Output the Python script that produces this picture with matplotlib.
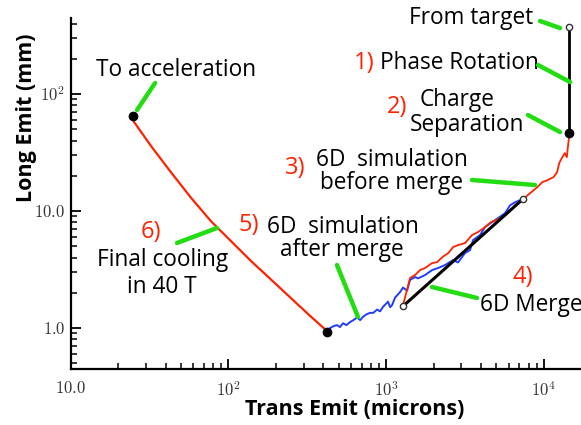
import matplotlib
matplotlib.use("Agg")
import matplotlib.pyplot as plt

# ---------------- data ----------------
# 6) final cooling (red)
cool_x = [24.3, 32.3, 43.3, 57.9, 77.6, 103.9, 139.1, 186.2, 249.5, 334, 422]
cool_y = [62, 36.0, 21.4, 13.0, 8.18, 5.53, 3.74, 2.60, 1.80, 1.25, 0.943]

# 5) 6D simulation after merge (blue)
after_x = [420, 441, 465, 488, 510, 533, 560, 590, 620, 654, 685, 714, 750, 791, 830,
           876, 915, 956, 1028, 1060, 1090, 1139, 1225, 1280, 1357, 1418, 1525, 1594,
           1765, 1955, 2134, 2363, 2656, 2857, 3165, 3404, 3556, 3939, 4238, 4694,
           5123, 5675, 6105, 6567, 7066]
after_y = [0.93, 1.00, 1.04, 1.06, 1.02, 1.10, 1.06, 1.125, 1.17, 1.23, 1.17, 1.25, 1.31, 1.35, 1.35,
           1.44, 1.39, 1.52, 1.68, 1.51, 1.57, 1.82, 2.03, 2.22, 2.09, 2.58, 2.73, 2.66,
           2.84, 3.13, 3.26, 3.46, 3.81, 3.64, 4.38, 4.64, 5.65, 6.24, 7.30, 8.05,
           8.71, 9.6, 11.2, 11.9, 12.4]

# 3) 6D simulation before merge + 2) charge separation (red)
before_x = [1280, 1418, 1525, 1640, 1765, 1955, 2102, 2271, 2480, 2656, 2857, 3165,
            3505, 3825, 4238, 4627, 4977, 5513, 6016, 6567, 7263, 8166, 9090, 9780,
            10580, 11510, 12130, 12520, 13000, 13590, 13990, 14200, 14420, 14420]
before_y = [1.57, 2.68, 2.84, 3.13, 3.26, 3.59, 3.66, 4.04, 4.38, 4.92, 5.12, 5.33,
            6.24, 6.62, 7.30, 8.05, 8.38, 8.89, 9.8, 11.2, 12.4, 14.2, 16.0, 17.7,
            18.4, 19.5, 21.5, 25.7, 28.4, 31.3, 28.9, 35.2, 42.1, 46.4]

# 4) 6D merge (black line)
merge_x = [1280, 7380]
merge_y = [1.54, 12.7]

# 1) phase rotation (black vertical)
phase_x = [14420, 14420]
phase_y = [374, 46.4]

# markers
dot_x = [25, 420, 14420]
dot_y = [65, 0.93, 46.4]
open_x = [1280, 7380, 14420]
open_y = [1.54, 12.7, 374]

xticks = [10, 100, 1000, 10000]
xticklabels = [r"$10.0$", r"$10^2$", r"$10^3$", r"$10^4$"]
yticks = [1, 10, 100]
yticklabels = [r"$1.0$", r"$10.0$", r"$10^2$"]

# ---------------- style ----------------
plt.rcParams["mathtext.fontset"] = "cm"
plt.rcParams["font.family"] = ["Open Sans", "DejaVu Sans"]

RED = "#ff2200"
BLUE = "#1f3cff"
GREEN = "#22dd11"

fig = plt.figure(figsize=(5.81, 4.25), dpi=100)
ax = fig.add_axes([0.1217, 0.1318, 1 - 0.1217, 0.9576 - 0.1318])
ax.set_xscale("log")
ax.set_yscale("log")
ax.set_xlim(10, 17200)
ax.set_ylim(0.447, 447)

ax.plot(cool_x, cool_y, color=RED, lw=1.6, zorder=3)
ax.plot(after_x, after_y, color=BLUE, lw=1.4, zorder=3)
ax.plot(before_x, before_y, color=RED, lw=1.3, zorder=3)
ax.plot(merge_x, merge_y, color="black", lw=2.2, zorder=4)
ax.plot(phase_x, phase_y, color="black", lw=2.0, zorder=4, clip_on=False)
ax.plot(dot_x, dot_y, "o", color="black", ms=6, zorder=6, clip_on=False)
ax.plot(open_x, open_y, "o", mfc="white", mec="#333333", mew=1.0, ms=4.5,
        zorder=6, clip_on=False)

for s in ["top", "right"]:
    ax.spines[s].set_visible(False)
for s in ["left", "bottom"]:
    ax.spines[s].set_linewidth(1.6)

ax.set_xticks(xticks)
ax.set_xticklabels(xticklabels)
ax.set_yticks(yticks)
ax.set_yticklabels(yticklabels)
ax.tick_params(which="major", direction="in", length=7, width=1.3,
               labelsize=12, labelcolor="#333333")
ax.tick_params(which="minor", direction="in", length=4, width=1.1)
ax.tick_params(axis="x", which="major", pad=9)
ax.tick_params(axis="y", which="major", pad=4)
ax.yaxis.set_minor_formatter(plt.NullFormatter())
ax.xaxis.set_minor_formatter(plt.NullFormatter())

# axis labels
ax.text(0.557, -0.116, "Trans Emit (microns)", transform=ax.transAxes,
        ha="center", va="center", fontsize=15.5, fontweight="bold", clip_on=False)
ax.text(-0.0876, 0.715, "Long Emit (mm)", transform=ax.transAxes, rotation=90,
        ha="center", va="center", fontsize=15.5, fontweight="bold", clip_on=False)

# annotation texts
T = dict(transform=ax.transAxes, fontsize=16.3, color="black", va="center", clip_on=False)
R = dict(transform=ax.transAxes, fontsize=17, color=RED, va="center", ha="center", clip_on=False)

ax.text(0.2064, 0.852, "To acceleration", ha="center", **T)
ax.text(0.7845, 1.000, "From target", ha="center", **T)
ax.text(0.5748, 0.872, "1)", **R)
ax.text(0.606, 0.872, "Phase Rotation", ha="left", **T)
ax.text(0.639, 0.746, "2)", **R)
ax.text(0.757, 0.766, "Charge", ha="center", **T)
ax.text(0.7765, 0.695, "Separation", ha="center", **T)
ax.text(0.4395, 0.5726, "3)", **R)
ax.text(0.6296, 0.5954, "6D  simulation", ha="center", **T)
ax.text(0.6296, 0.530, "before merge", ha="center", **T)
ax.text(0.349, 0.410, "5)", **R)
ax.text(0.5337, 0.4046, "6D  simulation", ha="center", **T)
ax.text(0.5317, 0.339, "after merge", ha="center", **T)
ax.text(0.1574, 0.390, "6)", **R)
ax.text(0.181, 0.3105, "Final cooling", ha="center", **T)
ax.text(0.179, 0.2336, "in 40 T", ha="center", **T)
ax.text(0.886, 0.262, "4)", **R)
ax.text(0.802, 0.182, "6D Merge", ha="left", **T)

# green pointer lines (axes fraction)
pointers = [
    ((0.1653, 0.8148), (0.1300, 0.7379)),
    ((0.9197, 0.9915), (0.9589, 0.9715)),
    ((0.9157, 0.8661), (0.9785, 0.8177)),
    ((0.8961, 0.7236), (0.9589, 0.6752)),
    ((0.7864, 0.5385), (0.9099, 0.5242)),
    ((0.7080, 0.2336), (0.7962, 0.2023)),
    ((0.5218, 0.2963), (0.5630, 0.1481)),
    ((0.2083, 0.3590), (0.2868, 0.4017)),
]
for p0, p1 in pointers:
    ax.annotate("", xy=p1, xytext=p0, xycoords="axes fraction",
                textcoords="axes fraction",
                arrowprops=dict(arrowstyle="-", color=GREEN, lw=3.2,
                                shrinkA=0, shrinkB=0),
                zorder=5, annotation_clip=False)

fig.savefig("out.png", dpi=100)
